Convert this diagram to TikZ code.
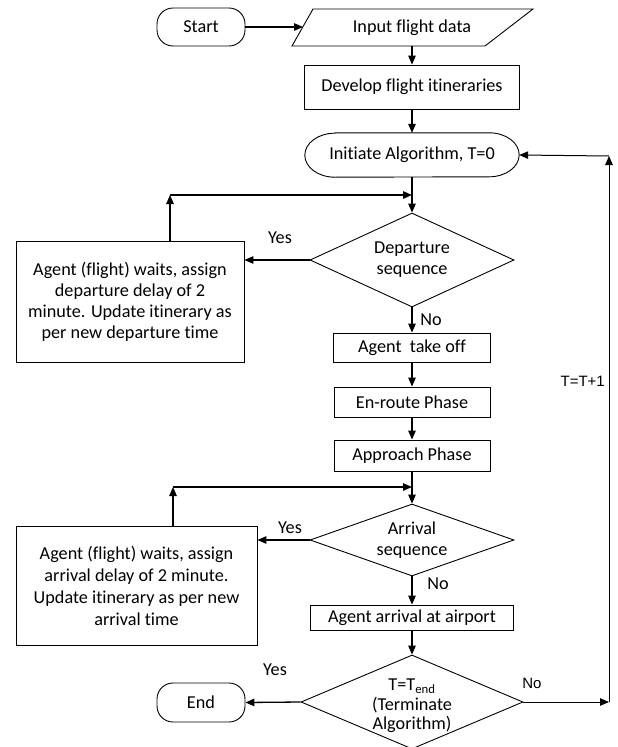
\documentclass[tikz,border=0pt]{standalone}
\usepackage{fontspec}
\setmainfont{Carlito}[Ligatures=NoCommon]
\newfontfamily\arialf{Liberation Sans}
\usetikzlibrary{arrows.meta,shapes.geometric}
\begin{document}
\begin{tikzpicture}[x=1pt,y=-1pt,
  font=\fontsize{18.2}{21}\selectfont,
  box/.style={draw,line width=0.9pt,inner sep=0pt,align=center,anchor=center},
  term/.style={box,rounded corners=16pt},
  dia/.style={draw,diamond,line width=0.9pt,inner sep=0pt,anchor=center},
  txt/.style={inner sep=0pt,align=center,anchor=center},
  conn/.style={line width=1.3pt,-{Triangle[length=9pt,width=7.5pt]}},
  thinconn/.style={line width=1pt,-{Triangle[length=9pt,width=7.5pt]}},
  lbl/.style={inner sep=0pt,anchor=center},
  albl/.style={inner sep=0pt,anchor=center,font=\arialf\fontsize{15}{18}\selectfont}]
\useasboundingbox (0,0) rectangle (618,747);
% terminals
\node[term,minimum width=88pt,minimum height=38pt] (start) at (201,27) {Start};
\node[term,minimum width=88pt,minimum height=39pt] (end) at (201,702.5) {End};
% input parallelogram
\node[txt,minimum width=190pt,minimum height=37pt] (inp) at (412,27.5) {Input flight data};
\draw[line width=0.9pt] (292,46) -- (313,9) -- (533,9) -- (485,46) -- cycle;
\coordinate (inpL) at (303,27);
% process boxes
\node[box,minimum width=215pt,minimum height=44pt] (dev) at (412,87) {Develop flight itineraries};
\node[txt,minimum width=214pt,minimum height=44pt] (init) at (412,155) {Initiate Algorithm, T=0};
\draw[line width=0.9pt] ([xshift=30pt]init.north west) -- ([xshift=-30pt]init.north east)
  arc[start angle=90,end angle=-90,x radius=30pt,y radius=22pt]
  -- ([xshift=30pt]init.south west)
  arc[start angle=270,end angle=90,x radius=30pt,y radius=22pt] -- cycle;
\node[dia,minimum width=204pt,minimum height=94pt] (d1) at (412,260) {};
\node[txt] (d1t) at (412,260) {Departure\\sequence};
\node[box,minimum width=228pt,minimum height=121pt] (b1) at (130,301.5)
  {Agent (flight) waits, assign\\departure delay of 2\\minute. Update itinerary as\\per new departure time};
\node[box,minimum width=157pt,minimum height=29pt] (tko) at (412,347.5) {Agent\ \ take off};
\node[box,minimum width=156pt,minimum height=30pt] (enr) at (412,402) {En-route Phase};
\node[box,minimum width=156pt,minimum height=31pt] (app) at (412,455.5) {Approach Phase};
\node[dia,minimum width=204pt,minimum height=72pt] (d2) at (412,540) {};
\node[txt] (d2t) at (412,540) {Arrival\\sequence};
\node[box,minimum width=241pt,minimum height=119pt,font=\fontsize{18.2}{22}\selectfont] (b2) at (136.5,585.5)
  {Agent (flight) waits, assign\\arrival delay of 2 minute.\\Update itinerary as per new\\arrival time};
\node[box,minimum width=203pt,minimum height=25pt] (arr) at (412,617.5) {Agent arrival at airport};
\node[dia,minimum width=222pt,minimum height=94pt] (d3) at (412,702) {};
\node[txt,font=\fontsize{18.2}{19.5}\selectfont] (d3t) at (412,706) {T=T\textsubscript{end}\\(Terminate\\Algorithm)};
% labels
\node[lbl] (y1) at (280,238) {Yes};
\node[lbl] (n1) at (431,320) {No};
\node[lbl] (y2) at (290,528) {Yes};
\node[lbl] (n2) at (438,584) {No};
\node[lbl] (y3) at (275,670) {Yes};
\node[albl] (n3) at (532,683) {No};
\node[albl,anchor=east] (tt) at (605,381) {T=T+1};
% coordinates for loops
\coordinate (c1) at (170,195);
\coordinate (c2) at (173,487);
\coordinate (r1) at (609,702);
\coordinate (r2) at (609,156);
% connectors
\draw[conn] (start.east) -- (inpL);
\draw[conn] (inp.south) -- (dev.north);
\draw[conn] (dev.south) -- (init.north);
\draw[conn] (init.south) -- (d1.north);
\draw[conn] (d1.west) -- (d1.west -| b1.east);
\draw[conn] (b1.north -| c1) -- (c1);
\draw[conn] (c1) -- (c1 -| d1.north);
\draw[conn] (d1.south) -- (tko.north);
\draw[conn] (tko.south) -- (enr.north);
\draw[conn] (enr.south) -- (app.north);
\draw[conn] (app.south) -- (d2.north);
\draw[conn] (d2.west) -- (d2.west -| b2.east);
\draw[conn] (b2.north -| c2) -- (c2);
\draw[conn] (c2) -- (c2 -| d2.north);
\draw[conn] (d2.south) -- (arr.north);
\draw[conn] (arr.south) -- (d3.north);
\draw[conn] (d3.west) -- (end.east);
\draw[thinconn] (d3.east) -- (r1);
\draw[thinconn] (r1) -- (r2);
\draw[thinconn] (r2) -- (init.east);
\end{tikzpicture}
\end{document}
